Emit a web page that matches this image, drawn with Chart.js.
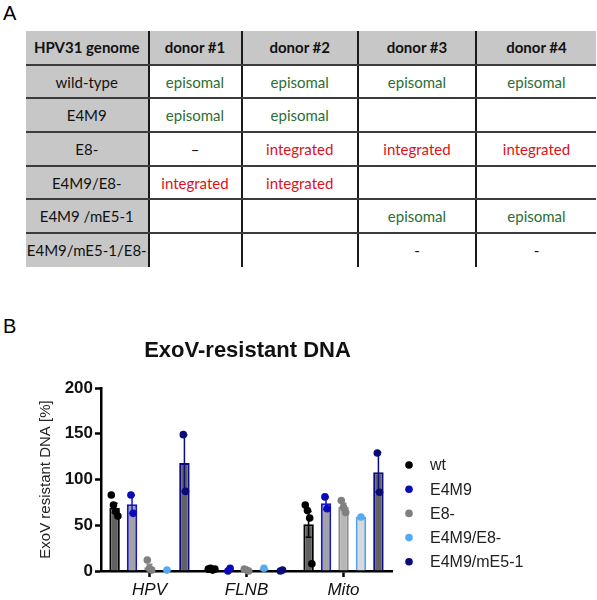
<!DOCTYPE html>
<html><head><meta charset="utf-8">
<script src="https://cdn.jsdelivr.net/npm/chart.js@4.4.1/dist/chart.umd.min.js"></script>
<style>
html,body{margin:0;padding:0;background:#fff;width:597px;height:600px;overflow:hidden;position:relative;}
.panel{position:absolute;font-family:"Liberation Sans",Arial,sans-serif;font-size:20px;color:#000;line-height:1;}
#tbl{position:absolute;left:26px;top:31px;border-collapse:collapse;font-family:Lato,"Open Sans",sans-serif;font-size:15px;table-layout:fixed;}
#tbl td{height:33.7px;padding:0;text-align:center;vertical-align:middle;border-bottom:2px solid #3c3c3c;border-right:2px solid #1a1a1a;box-sizing:border-box;}
#tbl td.lastrow{border-bottom:none;}
#tbl td.lastcol{border-right:none;}
#tbl td.hd{background:#c7c7c7;font-weight:bold;color:#111;}
#tbl td.rowhd{background:#c7c7c7;color:#111;}
.epi{color:#2c6e33;}
.int{color:#dc1219;}
.dash{color:#111;}
#c{position:absolute;left:0;top:300px;}
</style>
</head><body>
<div class="panel" style="left:3px;top:3px;">A</div>
<div class="panel" style="left:3px;top:316px;">B</div>
<table id="tbl"></table>
<canvas id="c" width="597" height="300"></canvas>
<script>
// ---------- Table (panel A) ----------
const tableHeader = ['HPV31 genome', 'donor #1', 'donor #2', 'donor #3', 'donor #4'];
const genomes = ['wild-type', 'E4M9', 'E8-', 'E4M9/E8-', 'E4M9 /mE5-1', 'E4M9/mE5-1/E8-'];
const donorStatus = [
  ['episomal', 'episomal', 'episomal', 'episomal'],
  ['episomal', 'episomal', '', ''],
  ['–', 'integrated', 'integrated', 'integrated'],
  ['integrated', 'integrated', '', ''],
  ['', '', 'episomal', 'episomal'],
  ['', '', '-', '-']
];
const colWidths = [122.5, 93, 116.5, 118, 120];

(function buildTable(){
  const t = document.getElementById('tbl');
  const cg = document.createElement('colgroup');
  colWidths.forEach(w => { const c = document.createElement('col'); c.style.width = w + 'px'; cg.appendChild(c); });
  t.appendChild(cg);
  const tb = document.createElement('tbody');
  t.appendChild(tb);
  const hr = document.createElement('tr');
  tableHeader.forEach((h, k) => {
    const td = document.createElement('td'); td.textContent = h;
    td.className = 'hd' + (k === tableHeader.length - 1 ? ' lastcol' : '');
    hr.appendChild(td);
  });
  tb.appendChild(hr);
  genomes.forEach((g, i) => {
    const tr = document.createElement('tr');
    const last = i === genomes.length - 1 ? ' lastrow' : '';
    const td0 = document.createElement('td'); td0.textContent = g; td0.className = 'rowhd' + last; tr.appendChild(td0);
    donorStatus[i].forEach((s, k) => {
      const td = document.createElement('td'); td.textContent = s;
      td.className = (s === 'episomal' ? 'epi' : (s === 'integrated' ? 'int' : 'dash')) + last +
        (k === donorStatus[i].length - 1 ? ' lastcol' : '');
      tr.appendChild(td);
    });
    tb.appendChild(tr);
  });
})();

// ---------- Chart data (panel B) ----------
const chartTitle = 'ExoV-resistant DNA';
const yAxisTitle = 'ExoV resistant DNA [%]';
const categories = ['HPV', 'FLNB', 'Mito'];
const seriesNames = ['wt', 'E4M9', 'E8-', 'E4M9/E8-', 'E4M9/mE5-1'];
const yTicks = [0, 50, 100, 150, 200];

// bar heights (mean) per series, per category
const wtMean = [69, 2, 51];
const e4m9Mean = [73, 1.5, 74];
const e8Mean = [4, 1, 70];
const e4m9e8Mean = [1, 2, 59];
const e4m9mE51Mean = [118, 0.5, 108];

// error bar half-lengths (SEM) per series, per category
const wtSem = [5, 0.5, 14];
const e4m9Sem = [10, 1.5, 6.5];
const e8Sem = [3.5, 0.6, 4];
const e4m9e8Sem = [0, 0, 0];
const e4m9mE51Sem = [31, 0.5, 21.5];

// individual replicate points per series, per category
const wtPoints = [[83, 72, 65, 60], [2, 3, 1, 2], [72, 66, 58, 8]];
const e4m9Points = [[83, 63], [0, 3], [81, 68]];
const e8Points = [[12, 3, 1], [2, 1, 0], [77, 70, 64]];
const e4m9e8Points = [[1], [3], [59]];
const e4m9mE51Points = [[149, 87], [0, 1], [129, 86]];

const barFills = ['#616161', '#a3a3a3', '#b6b6b6', '#d9d9d9', '#626262'];
const barBorders = ['#000000', '#1515c8', '#8c8c8c', '#4aa3f5', '#0c0c80'];
const pointColors = ['#000000', '#0a0ab8', '#808080', '#55aaf2', '#0b0b78'];

const means = [wtMean, e4m9Mean, e8Mean, e4m9e8Mean, e4m9mE51Mean];
const sems = [wtSem, e4m9Sem, e8Sem, e4m9e8Sem, e4m9mE51Sem];
const points = [wtPoints, e4m9Points, e8Points, e4m9e8Points, e4m9mE51Points];

const FONT = '"Liberation Sans", Arial, sans-serif';

const overlay = {
  id: 'overlay',
  afterDatasetsDraw(chart) {
    const ctx = chart.ctx;
    const ys = chart.scales.y;
    chart.data.datasets.forEach((ds, i) => {
      const meta = chart.getDatasetMeta(i);
      meta.data.forEach((bar, j) => {
        const x = bar.x;
        const m = means[i][j], s = sems[i][j];
        if (s > 0) {
          const yTop = ys.getPixelForValue(m + s);
          const yBot = ys.getPixelForValue(m - s);
          ctx.save();
          ctx.strokeStyle = barBorders[i];
          ctx.lineWidth = 1.5;
          ctx.beginPath();
          ctx.moveTo(x, yTop); ctx.lineTo(x, yBot);
          ctx.moveTo(x - 3, yTop); ctx.lineTo(x + 3, yTop);
          ctx.moveTo(x - 3, yBot); ctx.lineTo(x + 3, yBot);
          ctx.stroke();
          ctx.restore();
        }
      });
    });
    chart.data.datasets.forEach((ds, i) => {
      const meta = chart.getDatasetMeta(i);
      meta.data.forEach((bar, j) => {
        const pts = points[i][j];
        const n = pts.length;
        pts.forEach((v, k) => {
          const off = (k - (n - 1) / 2) * 2.2;
          const y = ys.getPixelForValue(v);
          ctx.save();
          ctx.fillStyle = pointColors[i];
          ctx.beginPath();
          ctx.arc(bar.x + off, y, 3.8, 0, Math.PI * 2);
          ctx.fill();
          ctx.restore();
        });
      });
    });
  },
  afterDraw(chart) {
    const ctx = chart.ctx;
    const ca = chart.chartArea;
    ctx.save();
    ctx.fillStyle = '#111';
    ctx.font = 'bold 22px ' + FONT;
    ctx.textAlign = 'center';
    ctx.textBaseline = 'alphabetic';
    ctx.fillText(chartTitle, (ca.left + ca.right) / 2 + 1, 57);
    // legend
    ctx.font = '16px ' + FONT;
    ctx.textAlign = 'left';
    ctx.textBaseline = 'middle';
    chart.data.datasets.forEach((ds, i) => {
      const y = 165 + i * 24.2;
      ctx.fillStyle = pointColors[i];
      ctx.beginPath();
      ctx.arc(409, y, 3.8, 0, Math.PI * 2);
      ctx.fill();
      ctx.fillStyle = '#222';
      ctx.fillText(ds.label, 430, y + 1);
    });
    ctx.restore();
  }
};

new Chart(document.getElementById('c'), {
  type: 'bar',
  data: {
    labels: categories,
    datasets: seriesNames.map((name, i) => ({
      label: name,
      data: means[i],
      backgroundColor: barFills[i],
      borderColor: barBorders[i],
      borderWidth: 2,
      categoryPercentage: 0.9,
      barPercentage: 0.6
    }))
  },
  options: {
    responsive: false,
    animation: false,
    devicePixelRatio: 1,
    layout: { padding: { left: 0, right: 205, top: 88, bottom: 0 } },
    plugins: { legend: { display: false }, title: { display: false }, tooltip: { enabled: false } },
    scales: {
      x: {
        afterFit(scale) { scale.height = 29; },
        grid: { display: true, drawOnChartArea: false, drawTicks: true, tickLength: 6, tickWidth: 2.5, tickColor: '#000', offset: false },
        border: { display: true, color: '#000', width: 2.5 },
        ticks: { color: '#111', padding: 3, font: { family: FONT, size: 17, style: 'italic' } }
      },
      y: {
        min: 0, max: 200,
        afterFit(scale) { scale.width = 101; },
        afterBuildTicks(scale) { scale.ticks = yTicks.map(v => ({ value: v })); },
        grid: { display: true, drawOnChartArea: false, drawTicks: true, tickLength: 6, tickWidth: 2.5, tickColor: '#000' },
        border: { display: true, color: '#000', width: 2.5 },
        ticks: { color: '#111', padding: 2, font: { family: FONT, size: 17, weight: 'bold' } },
        title: { display: true, text: yAxisTitle, color: '#222', font: { family: FONT, size: 15 }, padding: { top: 37, bottom: 0 } }
      }
    }
  },
  plugins: [overlay]
});
</script>
</body></html>
